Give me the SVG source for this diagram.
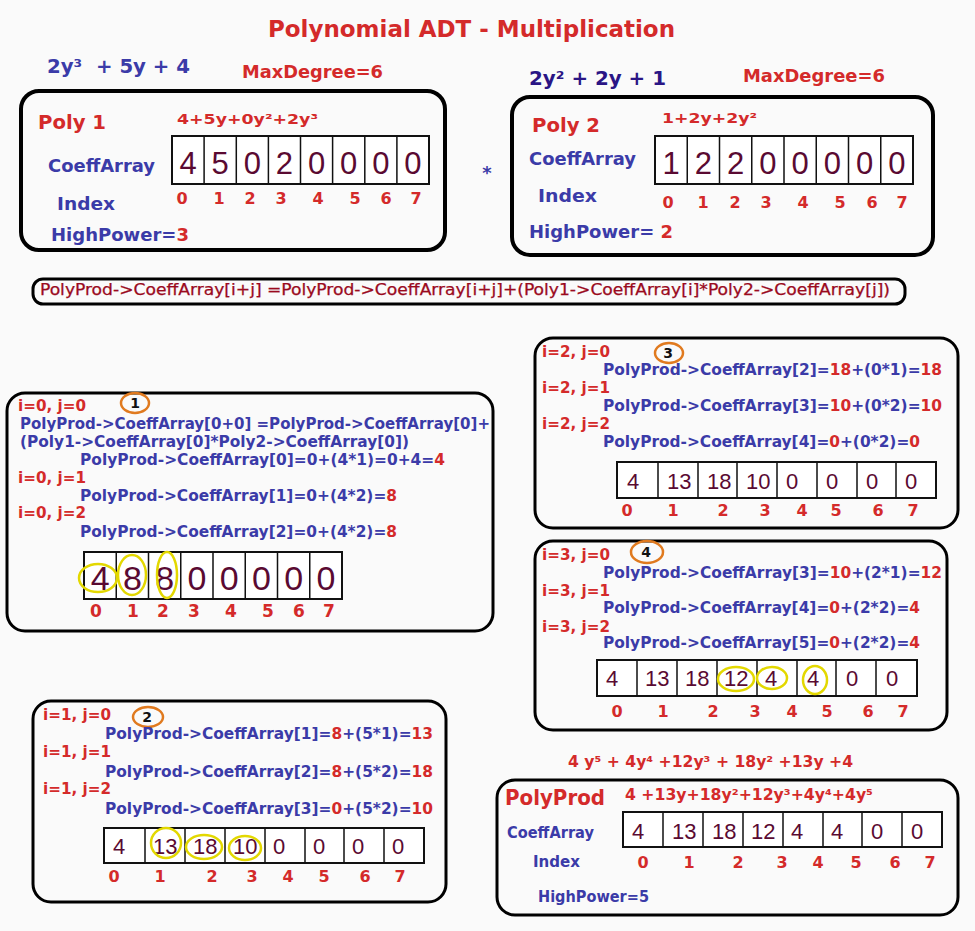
<svg xmlns="http://www.w3.org/2000/svg" width="975" height="931" viewBox="0 0 975 931">
<style>
.t{font-family:"DejaVu Sans",Verdana,sans-serif;font-weight:bold}
.r{fill:#d42a2a}
.bl{fill:#3b3ba8}
.ind{fill:#2a1585}
.box{fill:none;stroke:#000;stroke-width:3}
.box4{fill:none;stroke:#000;stroke-width:4}
.arr{fill:#fff;stroke:#111;stroke-width:2}
.dv{stroke:#111;stroke-width:1.5}
.dg{font-family:"Liberation Sans",Arial,sans-serif;fill:#5a0a32}
.oc{fill:none;stroke:#e07a1f;stroke-width:2.5}
.yc{fill:none;stroke:#e3d800;stroke-width:2.5}
.ix{font-family:"DejaVu Sans",Verdana,sans-serif;font-weight:bold;fill:#d42a2a;text-anchor:middle}
.num{font-family:"DejaVu Sans",Verdana,sans-serif;font-weight:bold;fill:#111;text-anchor:middle;font-size:14px}
</style>
<rect width="975" height="931" fill="#fafafa"/>

<g id="title">
<text class="t r" x="268" y="37" font-size="23" textLength="407" lengthAdjust="spacingAndGlyphs" fill="#cc1515">Polynomial ADT - Multiplication</text>
</g>

<g id="poly1">
<text class="t bl" x="47" y="73" font-size="19" textLength="143" lengthAdjust="spacingAndGlyphs" xml:space="preserve">2y³  + 5y + 4</text>
<text class="t r" x="242" y="78" font-size="17" textLength="141" lengthAdjust="spacingAndGlyphs">MaxDegree=6</text>
<rect class="box4" x="21" y="91" width="424" height="159" rx="18"/>
<text class="t r" x="38" y="129" font-size="20" textLength="68" lengthAdjust="spacingAndGlyphs">Poly 1</text>
<text class="t r" x="177" y="124" font-size="14" textLength="141" lengthAdjust="spacingAndGlyphs">4+5y+0y²+2y³</text>
<text class="t bl" x="48" y="172" font-size="17" textLength="107" lengthAdjust="spacingAndGlyphs">CoeffArray</text>
<text class="t bl" x="57" y="210" font-size="17" textLength="58" lengthAdjust="spacingAndGlyphs">Index</text>
<text class="t bl" x="51" y="241" font-size="17" textLength="138" lengthAdjust="spacingAndGlyphs">HighPower=<tspan class="r">3</tspan></text>
<rect class="arr" x="172" y="136" width="257" height="48"/>
<path class="dv" d="M204.1 136V184M236.3 136V184M268.4 136V184M300.5 136V184M332.6 136V184M364.8 136V184M396.9 136V184"/>
<g class="dg" font-size="31" text-anchor="middle">
<text x="188" y="174">4</text><text x="220.1" y="174">5</text><text x="252.3" y="174">0</text><text x="284.4" y="174">2</text><text x="316.5" y="174">0</text><text x="348.6" y="174">0</text><text x="380.8" y="174">0</text><text x="412.9" y="174">0</text>
</g>
<g class="ix" font-size="16">
<text x="182" y="204">0</text><text x="219" y="204">1</text><text x="250" y="204">2</text><text x="281" y="204">3</text><text x="318" y="204">4</text><text x="355" y="204">5</text><text x="386" y="204">6</text><text x="416" y="204">7</text>
</g>
</g>

<g id="times">
<text class="t bl" x="487" y="179" font-size="18" text-anchor="middle">*</text>
</g>

<g id="poly2">
<text class="t ind" x="529" y="85" font-size="19" textLength="137" lengthAdjust="spacingAndGlyphs">2y² + 2y + 1</text>
<text class="t r" x="743" y="82" font-size="17" textLength="142" lengthAdjust="spacingAndGlyphs">MaxDegree=6</text>
<rect class="box4" x="512" y="97" width="421" height="158" rx="18"/>
<text class="t r" x="532" y="132" font-size="20" textLength="68" lengthAdjust="spacingAndGlyphs">Poly 2</text>
<text class="t r" x="662" y="123" font-size="14" textLength="95" lengthAdjust="spacingAndGlyphs">1+2y+2y²</text>
<text class="t bl" x="529" y="165" font-size="17" textLength="107" lengthAdjust="spacingAndGlyphs">CoeffArray</text>
<text class="t bl" x="538" y="202" font-size="17" textLength="59" lengthAdjust="spacingAndGlyphs">Index</text>
<text class="t bl" x="529" y="238" font-size="17" textLength="144" lengthAdjust="spacingAndGlyphs" xml:space="preserve">HighPower= <tspan class="r">2</tspan></text>
<rect class="arr" x="655" y="136" width="258" height="48"/>
<path class="dv" d="M687.25 136V184M719.5 136V184M751.75 136V184M784 136V184M816.25 136V184M848.5 136V184M880.75 136V184"/>
<g class="dg" font-size="31" text-anchor="middle">
<text x="671.1" y="174">1</text><text x="703.4" y="174">2</text><text x="735.6" y="174">2</text><text x="767.9" y="174">0</text><text x="800.1" y="174">0</text><text x="832.4" y="174">0</text><text x="864.6" y="174">0</text><text x="896.9" y="174">0</text>
</g>
<g class="ix" font-size="16">
<text x="668" y="208">0</text><text x="703" y="208">1</text><text x="735" y="208">2</text><text x="766" y="208">3</text><text x="803" y="208">4</text><text x="840" y="208">5</text><text x="872" y="208">6</text><text x="902" y="208">7</text>
</g>
</g>

<g id="formula">
<rect x="33" y="279" width="872" height="25" rx="10" fill="none" stroke="#000" stroke-width="3"/>
<text x="40" y="295" font-family="DejaVu Sans Condensed, DejaVu Sans, sans-serif" font-size="16" font-weight="500" fill="#9a0a1e" stroke="#9a0a1e" stroke-width="0.25" textLength="850" lengthAdjust="spacingAndGlyphs">PolyProd-&gt;CoeffArray[i+j] =PolyProd-&gt;CoeffArray[i+j]+(Poly1-&gt;CoeffArray[i]*Poly2-&gt;CoeffArray[j])</text>
</g>

<g id="step1">
<rect class="box" x="7" y="393" width="486" height="238" rx="18"/>
<text class="t r" x="18" y="411" font-size="15" textLength="68" lengthAdjust="spacingAndGlyphs">i=0, j=0</text>
<ellipse class="oc" cx="135" cy="403" rx="14" ry="10"/>
<text class="num" x="135" y="408">1</text>
<text class="t bl" x="20" y="429" font-size="15.5" textLength="470" lengthAdjust="spacingAndGlyphs">PolyProd-&gt;CoeffArray[0+0] =PolyProd-&gt;CoeffArray[0]+</text>
<text class="t bl" x="20" y="447" font-size="15.5" textLength="389" lengthAdjust="spacingAndGlyphs">(Poly1-&gt;CoeffArray[0]*Poly2-&gt;CoeffArray[0])</text>
<text class="t bl" x="80" y="465" font-size="15.5" textLength="365" lengthAdjust="spacingAndGlyphs">PolyProd-&gt;CoeffArray[0]=0+(4*1)=0+4=<tspan class="r">4</tspan></text>
<text class="t r" x="18" y="483" font-size="15" textLength="68" lengthAdjust="spacingAndGlyphs">i=0, j=1</text>
<text class="t bl" x="80" y="501" font-size="15" textLength="317" lengthAdjust="spacingAndGlyphs">PolyProd-&gt;CoeffArray[1]=0+(4*2)=<tspan class="r">8</tspan></text>
<text class="t r" x="18" y="518" font-size="15" textLength="68" lengthAdjust="spacingAndGlyphs">i=0, j=2</text>
<text class="t bl" x="80" y="537" font-size="15" textLength="317" lengthAdjust="spacingAndGlyphs">PolyProd-&gt;CoeffArray[2]=0+(4*2)=<tspan class="r">8</tspan></text>
<rect class="arr" x="84" y="552" width="258" height="47"/>
<path class="dv" d="M116.25 552V599M148.5 552V599M180.75 552V599M213 552V599M245.25 552V599M277.5 552V599M309.75 552V599"/>
<g class="dg" font-size="34" text-anchor="middle">
<text x="100.1" y="590">4</text><text x="132.4" y="590">8</text><text x="164.6" y="590">8</text><text x="196.9" y="590">0</text><text x="229.1" y="590">0</text><text x="261.4" y="590">0</text><text x="293.6" y="590">0</text><text x="325.9" y="590">0</text>
</g>
<ellipse class="yc" cx="98" cy="578" rx="19" ry="14"/>
<ellipse class="yc" cx="132" cy="575" rx="14" ry="20"/>
<ellipse class="yc" cx="167" cy="575" rx="10" ry="23"/>
<g class="ix" font-size="17">
<text x="96" y="617">0</text><text x="133" y="617">1</text><text x="163" y="617">2</text><text x="194" y="617">3</text><text x="231" y="617">4</text><text x="268" y="617">5</text><text x="299" y="617">6</text><text x="329" y="617">7</text>
</g>
</g>

<g id="step2">
<rect class="box" x="33" y="701" width="413" height="201" rx="18"/>
<text class="t r" x="43" y="720" font-size="15" textLength="68" lengthAdjust="spacingAndGlyphs">i=1, j=0</text>
<ellipse class="oc" cx="148" cy="717" rx="15" ry="10"/>
<text class="num" x="147" y="722">2</text>
<text class="t bl" x="105" y="739" font-size="15.5" textLength="328" lengthAdjust="spacingAndGlyphs">PolyProd-&gt;CoeffArray[1]=<tspan class="r">8</tspan>+(5*1)=<tspan class="r">13</tspan></text>
<text class="t r" x="43" y="757" font-size="15" textLength="68" lengthAdjust="spacingAndGlyphs">i=1, j=1</text>
<text class="t bl" x="105" y="777" font-size="15.5" textLength="328" lengthAdjust="spacingAndGlyphs">PolyProd-&gt;CoeffArray[2]=<tspan class="r">8</tspan>+(5*2)=<tspan class="r">18</tspan></text>
<text class="t r" x="43" y="794" font-size="15" textLength="68" lengthAdjust="spacingAndGlyphs">i=1, j=2</text>
<text class="t bl" x="105" y="814" font-size="15.5" textLength="328" lengthAdjust="spacingAndGlyphs">PolyProd-&gt;CoeffArray[3]=<tspan class="r">0</tspan>+(5*2)=<tspan class="r">10</tspan></text>
<rect class="arr" x="104" y="828" width="320" height="35"/>
<path class="dv" d="M145 828V863M185 828V863M225 828V863M265 828V863M305 828V863M344 828V863M384 828V863"/>
<g class="dg" font-size="22">
<text x="113" y="854">4</text><text x="153" y="854">13</text><text x="193" y="854">18</text><text x="233" y="854">10</text><text x="273" y="854">0</text><text x="313" y="854">0</text><text x="352" y="854">0</text><text x="392" y="854">0</text>
</g>
<ellipse class="yc" cx="166" cy="843" rx="15" ry="15"/>
<ellipse class="yc" cx="204" cy="847" rx="18" ry="12"/>
<ellipse class="yc" cx="245" cy="848" rx="16" ry="12"/>
<g class="ix" font-size="16">
<text x="114" y="882">0</text><text x="160" y="882">1</text><text x="212" y="882">2</text><text x="252" y="882">3</text><text x="288" y="882">4</text><text x="324" y="882">5</text><text x="365" y="882">6</text><text x="400" y="882">7</text>
</g>
</g>

<g id="step3">
<rect class="box" x="535" y="338" width="423" height="190" rx="18"/>
<text class="t r" x="542" y="357" font-size="15" textLength="68" lengthAdjust="spacingAndGlyphs">i=2, j=0</text>
<ellipse class="oc" cx="669" cy="353" rx="14" ry="10"/>
<text class="num" x="668" y="358">3</text>
<text class="t bl" x="603" y="375" font-size="15.5" textLength="339" lengthAdjust="spacingAndGlyphs">PolyProd-&gt;CoeffArray[2]=<tspan class="r">18</tspan>+(0*1)=<tspan class="r">18</tspan></text>
<text class="t r" x="542" y="393" font-size="15" textLength="68" lengthAdjust="spacingAndGlyphs">i=2, j=1</text>
<text class="t bl" x="603" y="411" font-size="15.5" textLength="339" lengthAdjust="spacingAndGlyphs">PolyProd-&gt;CoeffArray[3]=<tspan class="r">10</tspan>+(0*2)=<tspan class="r">10</tspan></text>
<text class="t r" x="542" y="429" font-size="15" textLength="68" lengthAdjust="spacingAndGlyphs">i=2, j=2</text>
<text class="t bl" x="603" y="447" font-size="15.5" textLength="317" lengthAdjust="spacingAndGlyphs">PolyProd-&gt;CoeffArray[4]=<tspan class="r">0</tspan>+(0*2)=<tspan class="r">0</tspan></text>
<rect class="arr" x="617" y="462" width="319" height="36"/>
<path class="dv" d="M658 462V498M698 462V498M737 462V498M777 462V498M817 462V498M857 462V498M896 462V498"/>
<g class="dg" font-size="22">
<text x="627" y="489">4</text><text x="667" y="489">13</text><text x="707" y="489">18</text><text x="746" y="489">10</text><text x="786" y="489">0</text><text x="826" y="489">0</text><text x="866" y="489">0</text><text x="905" y="489">0</text>
</g>
<g class="ix" font-size="16">
<text x="627" y="516">0</text><text x="673" y="516">1</text><text x="723" y="516">2</text><text x="765" y="516">3</text><text x="802" y="516">4</text><text x="836" y="516">5</text><text x="878" y="516">6</text><text x="913" y="516">7</text>
</g>
</g>

<g id="step4">
<rect class="box" x="535" y="541" width="412" height="189" rx="18"/>
<text class="t r" x="542" y="560" font-size="15" textLength="68" lengthAdjust="spacingAndGlyphs">i=3, j=0</text>
<ellipse class="oc" cx="647" cy="552" rx="16" ry="11"/>
<text class="num" x="646" y="557">4</text>
<text class="t bl" x="603" y="578" font-size="15.5" textLength="339" lengthAdjust="spacingAndGlyphs">PolyProd-&gt;CoeffArray[3]=<tspan class="r">10</tspan>+(2*1)=<tspan class="r">12</tspan></text>
<text class="t r" x="542" y="596" font-size="15" textLength="68" lengthAdjust="spacingAndGlyphs">i=3, j=1</text>
<text class="t bl" x="603" y="613" font-size="15.5" textLength="317" lengthAdjust="spacingAndGlyphs">PolyProd-&gt;CoeffArray[4]=<tspan class="r">0</tspan>+(2*2)=<tspan class="r">4</tspan></text>
<text class="t r" x="542" y="632" font-size="15" textLength="68" lengthAdjust="spacingAndGlyphs">i=3, j=2</text>
<text class="t bl" x="603" y="648" font-size="15.5" textLength="317" lengthAdjust="spacingAndGlyphs">PolyProd-&gt;CoeffArray[5]=<tspan class="r">0</tspan>+(2*2)=<tspan class="r">4</tspan></text>
<rect class="arr" x="597" y="660" width="320" height="36"/>
<path class="dv" d="M637 660V696M677 660V696M717 660V696M757 660V696M797 660V696M836 660V696M876 660V696"/>
<g class="dg" font-size="22">
<text x="606" y="686">4</text><text x="645" y="686">13</text><text x="685" y="686">18</text><text x="724" y="686">12</text><text x="765" y="686">4</text><text x="807" y="686">4</text><text x="846" y="686">0</text><text x="886" y="686">0</text>
</g>
<ellipse class="yc" cx="736" cy="679" rx="18" ry="12"/>
<ellipse class="yc" cx="772" cy="678" rx="15" ry="11"/>
<ellipse class="yc" cx="815" cy="680" rx="12" ry="14"/>
<g class="ix" font-size="16">
<text x="617" y="717">0</text><text x="663" y="717">1</text><text x="713" y="717">2</text><text x="755" y="717">3</text><text x="792" y="717">4</text><text x="827" y="717">5</text><text x="868" y="717">6</text><text x="903" y="717">7</text>
</g>
</g>

<g id="polyprod">
<text class="t r" x="568" y="767" font-size="16" textLength="285" lengthAdjust="spacingAndGlyphs">4 y⁵ + 4y⁴ +12y³ + 18y² +13y +4</text>
<rect class="box" x="497" y="780" width="461" height="135" rx="18"/>
<text class="t r" x="505" y="805" font-size="22" textLength="100" lengthAdjust="spacingAndGlyphs">PolyProd</text>
<text class="t r" x="625" y="800" font-size="15" textLength="248" lengthAdjust="spacingAndGlyphs">4 +13y+18y²+12y³+4y⁴+4y⁵</text>
<text class="t bl" x="507" y="838" font-size="15" textLength="87" lengthAdjust="spacingAndGlyphs">CoeffArray</text>
<text class="t bl" x="533" y="867" font-size="15" textLength="47" lengthAdjust="spacingAndGlyphs">Index</text>
<text class="t bl" x="538" y="902" font-size="15" textLength="111" lengthAdjust="spacingAndGlyphs">HighPower=5</text>
<rect class="arr" x="623" y="812" width="319" height="35"/>
<path class="dv" d="M663 812V847M703 812V847M743 812V847M783 812V847M823 812V847M862 812V847M902 812V847"/>
<g class="dg" font-size="22">
<text x="632" y="839">4</text><text x="672" y="839">13</text><text x="712" y="839">18</text><text x="751" y="839">12</text><text x="791" y="839">4</text><text x="831" y="839">4</text><text x="871" y="839">0</text><text x="911" y="839">0</text>
</g>
<g class="ix" font-size="16">
<text x="643" y="868">0</text><text x="689" y="868">1</text><text x="738" y="868">2</text><text x="782" y="868">3</text><text x="818" y="868">4</text><text x="856" y="868">5</text><text x="895" y="868">6</text><text x="930" y="868">7</text>
</g>
</g>
</svg>
